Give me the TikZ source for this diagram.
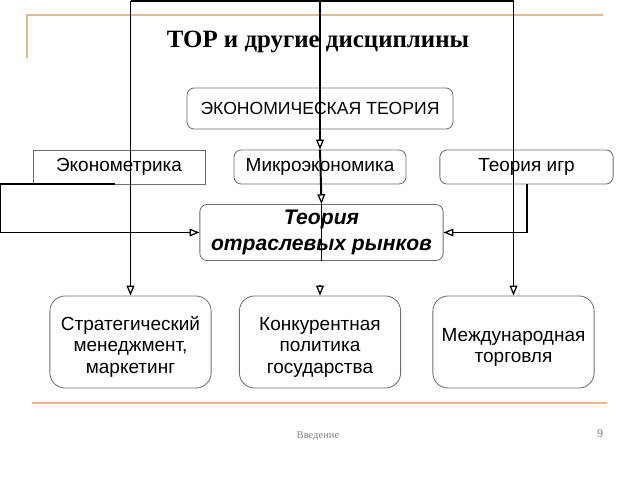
\documentclass[tikz,border=0pt]{standalone}
\usepackage{fontspec}
\setmainfont{Liberation Serif}
\setsansfont{Liberation Sans}
\usetikzlibrary{arrows.meta}
\definecolor{slideorange}{RGB}{232,184,136}
\definecolor{boxgray}{RGB}{110,110,110}
\begin{document}
\begin{tikzpicture}[x=0.025cm, y=-0.025cm,
		box/.style={draw=boxgray, line width=0.6pt, rounded corners=0.18cm, inner sep=0pt, align=center, font=\sffamily\fontsize{13.5}{16}\selectfont},
		bigbox/.style={box, rounded corners=0.38cm, minimum width=4.03cm, minimum height=2.3cm, font=\sffamily\fontsize{13.5}{15.6}\selectfont},
		conn/.style={line width=1.4pt},
		arr/.style={conn, -{Triangle[open, length=7pt, width=5.5pt, line width=0.9pt]}}]
		\useasboundingbox (0, 0) rectangle (640, 480);
		
		% slide frame
		\draw [slideorange, line width=1.4pt] (27, 58) -- (27, 15) -- (603, 15);
		\draw [slideorange, line width=1.4pt] (32, 403) -- (607, 403);
		\draw node at (318, 42) (title) {\fontsize{17.7}{20}\selectfont\bfseries ТОР и другие дисциплины};
		\draw node at (318, 436) (footer) {\color{gray}\fontsize{7.5}{9}\selectfont Введение};
		\draw node at (600, 434) (pagenum) {\color{gray}\fontsize{8.5}{10}\selectfont 9};
		
		% boxes
		\draw node[box, font=\sffamily\fontsize{12.5}{15}\selectfont, minimum width=6.65cm, minimum height=1.025cm] at (320, 108.5) (econ) {ЭКОНОМИЧЕСКАЯ ТЕОРИЯ};
		\draw node[box, sharp corners, minimum width=4.3cm, minimum height=0.85cm] at (119, 167) (ekonom) {Эконометрика};
		\draw node[box, minimum width=4.3cm, minimum height=0.85cm] at (320, 167) (micro) {Микроэкономика};
		\draw node[box, minimum width=4.33cm, minimum height=0.85cm] at (526.5, 167) (igry) {Теория игр};
		\draw node[box, minimum width=6.08cm, minimum height=1.4cm, font=\sffamily\bfseries\itshape\fontsize{15}{19}\selectfont] at (321.5, 232.5) (iot) {Теория\\отраслевых рынков};
		\draw node[bigbox] at (130.5, 342) (strat) {\rule{0pt}{17pt}Стратегический\\менеджмент,\\маркетинг};
		\draw node[bigbox] at (320, 342) (konk) {\rule{0pt}{17pt}Конкурентная\\политика\\государства};
		\draw node[bigbox] at (513.5, 342) (mezh) {\rule{0pt}{17pt}Международная\\торговля};
		
		% connectors
		\coordinate (topL) at (130.5, 1);
		\coordinate (topM) at (320, 1);
		\coordinate (topR) at (513.5, 1);
		\draw [conn]   (topL) -- (topR);
		\draw [arr]   (topL) -- (strat);
		\draw [arr]   (topR) -- (mezh);
		\draw [arr]   (topM) -- (micro.north);
		\draw [arr]   (micro.north) -- (iot.north);
		\draw [conn]   (iot.north) -- (iot.south);
		\draw [arr]   (konk.north) ++(0, -11) -- (konk.north);
		\draw [arr]   (ekonom.south) ++(-4, 0) -- ++(-115, 0) |- (iot.west);
		\draw [arr]   (igry.south) ++(0.5, 0) |- (iot.east);
	\end{tikzpicture}
\end{document}
